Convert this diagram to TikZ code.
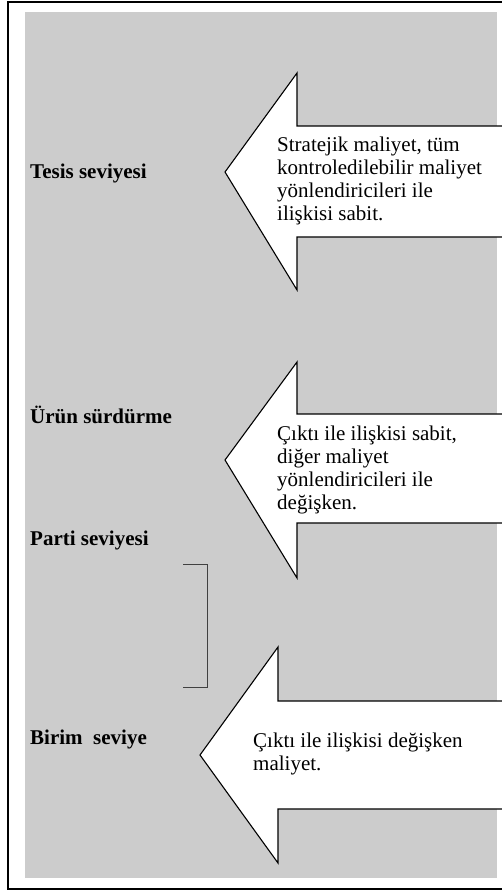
\documentclass[tikz,border=0pt]{standalone}
\usepackage{fontspec}
\setmainfont{Liberation Serif}
\definecolor{panel}{HTML}{CCCCCC}
\tikzset{
  level/.style={anchor=base west, inner sep=0pt, font=\fontsize{21}{23}\selectfont\bfseries},
  arrowtext/.style={anchor=base west, inner sep=0pt, font=\fontsize{21}{23}\selectfont},
  bigarrow/.style={fill=white, draw=black, line width=1.1pt, line join=miter},
  bracket/.style={draw=black!75, line width=0.7pt}
}
\newcommand{\arrowlines}[1]{\parbox[t]{230pt}{\raggedright\baselineskip=23pt #1}}
\begin{document}
\begin{tikzpicture}[x=1pt,y=-1pt]
  \useasboundingbox (0,0) rectangle (501,891);
  % outer frame and grey panel
  \draw[line width=1.8pt] (8,2) rectangle (512,889);
  \fill[panel] (25,12) rectangle (497,878);

  % level labels
  \node[level] (tesis) at (30,178) {Tesis seviyesi};
  \node[level] (urun)  at (30,423) {Ürün sürdürme};
  \node[level] (parti) at (30,545) {Parti seviyesi};
  \node[level] (birim) at (30,744) {Birim~ seviye};

  % bracket between the lower levels
  \coordinate (b1) at (183,564);
  \coordinate (b2) at (207,564);
  \coordinate (b3) at (207,687);
  \coordinate (b4) at (183,687);
  \draw[bracket] (b1) -- (b2) -- (b3) -- (b4);

  % block arrow 1
  \draw[bigarrow] (510,126) -- (297,126) -- (297,73) -- (225,172)
                  -- (297,290) -- (297,237) -- (510,237);
  \node[arrowtext] (t1) at (277,151) {\arrowlines{Stratejik maliyet, tüm\\
    kontroledilebilir maliyet\\ yönlendiricileri ile\\ ilişkisi sabit.}};

  % block arrow 2
  \draw[bigarrow] (510,414) -- (297,414) -- (297,362) -- (225,460)
                  -- (297,578) -- (297,523) -- (510,523);
  \node[arrowtext] (t2) at (277,440) {\arrowlines{Çıktı ile ilişkisi sabit,\\
    diğer maliyet\\ yönlendiricileri ile\\ değişken.}};

  % block arrow 3
  \draw[bigarrow] (510,701) -- (278,701) -- (278,647) -- (200,755)
                  -- (278,863) -- (278,809) -- (510,809);
  \node[arrowtext] (t3) at (253,747) {\arrowlines{Çıktı ile ilişkisi değişken\\
    maliyet.}};
\end{tikzpicture}
\end{document}
